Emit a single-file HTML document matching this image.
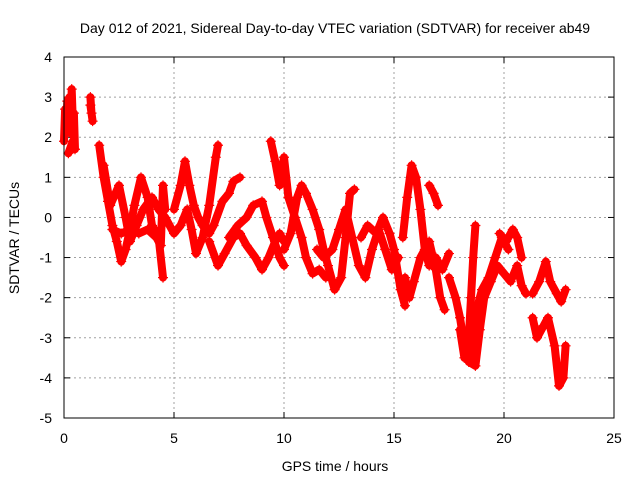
<!DOCTYPE html>
<html><head><meta charset="utf-8">
<style>
html,body{margin:0;padding:0;background:#fff;}
svg text{font-family:"Liberation Sans",sans-serif;font-size:14px;fill:#000;}
</style></head>
<body>
<svg id="chart" width="640" height="480" xmlns="http://www.w3.org/2000/svg">
<text x="335" y="33" text-anchor="middle">Day 012 of 2021, Sidereal Day-to-day VTEC variation (SDTVAR) for receiver ab49</text>
<text x="335" y="471" text-anchor="middle">GPS time / hours</text>
<text transform="translate(19,238) rotate(-90)" text-anchor="middle">SDTVAR / TECUs</text>
<g id="grid"></g>
<g id="ticks"></g>
<g id="series"></g>
<rect x="64" y="57" width="550" height="361" fill="none" stroke="#000" stroke-width="1"/>
</svg>
<script>
const xTicks=[0,5,10,15,20,25];
const yTicks=[4,3,2,1,0,-1,-2,-3,-4,-5];
const track1=[[0,1.9],[0.05,2.7],[0.1,2.2],[0.15,2.9],[0.25,3.0],[0.3,2.1],[0.35,3.2],[0.4,2.4],[0.45,2.6],[0.5,1.7],[0.4,1.9],[0.2,1.6]];
const track2=[[1.2,3.0],[1.25,2.6],[1.3,2.4],[1.2,2.8]];
const track3=[[1.6,1.8],[1.8,1.0],[2.0,0.4],[2.2,-0.2],[2.4,-0.6],[2.6,-1.1],[2.8,-0.8],[3.0,-0.3],[3.2,0.3],[3.5,1.0],[3.8,0.5],[4.0,-0.2],[4.3,-0.5],[4.5,-1.5]];
const track4=[[1.8,1.3],[2.1,0.3],[2.5,0.8],[2.8,0.0],[3.0,-0.6],[3.3,-0.2],[3.6,0.2],[4.0,0.5],[4.3,0.2],[4.6,0.0],[5.0,-0.4],[5.3,-0.2],[5.6,0.2],[5.8,-0.3],[6.0,-0.9],[6.3,-0.5],[6.6,0.3],[6.9,1.5],[7.0,1.8]];
const track5=[[2.2,-0.3],[2.6,-0.4],[3.0,-0.3],[3.4,-0.4],[3.8,-0.3],[4.2,-0.5],[4.4,-0.7],[4.5,0.8],[4.6,0.2]];
const track6=[[5.0,0.2],[5.3,0.8],[5.5,1.4],[5.7,0.8],[5.9,0.3],[6.1,0.0],[6.3,-0.2],[6.6,-0.4],[6.8,-0.2],[7.2,0.4],[7.5,0.6],[7.7,0.9],[8.0,1.0]];
const track7=[[6.6,-0.6],[7.0,-1.2],[7.3,-0.9],[7.7,-0.5],[8.0,-0.4],[8.3,-0.7],[8.7,-1.0],[9.0,-1.3],[9.3,-1.0],[9.6,-0.6],[9.8,-0.4],[10.0,-0.6]];
const track8=[[7.5,-0.5],[7.9,-0.2],[8.3,0.0],[8.6,0.3],[9.0,0.4],[9.2,0.0],[9.5,-0.5],[9.8,-1.0],[10.0,-1.2]];
const track9=[[9.4,1.9],[9.6,1.4],[9.8,0.8],[10.0,1.5],[10.2,0.5],[10.5,0.0],[10.8,-0.5],[11.0,-1.0],[11.3,-1.4],[11.6,-1.3],[11.9,-1.5]];
const track10=[[10.0,-0.8],[10.3,-0.4],[10.6,0.5],[10.8,0.8],[11.0,0.6],[11.3,0.2],[11.6,-0.3],[11.8,-0.8],[12.0,-1.2],[12.3,-1.8],[12.6,-1.5],[12.8,-0.5],[13.0,0.6],[13.2,0.7]];
const track11=[[11.5,-0.8],[11.8,-1.0],[12.2,-0.8],[12.5,-0.3],[12.8,0.2],[13.1,-0.5],[13.4,-1.2],[13.7,-1.5],[14.0,-0.8],[14.3,-0.3],[14.6,-0.8],[14.9,-1.3],[15.2,-1.0]];
const track12=[[13.5,-0.5],[13.8,-0.2],[14.2,-0.4],[14.5,0.0],[14.8,-0.4],[15.0,-0.8],[15.3,-1.8],[15.5,-2.2]];
const track13=[[15.4,-0.5],[15.6,0.5],[15.8,1.3],[16.0,1.0],[16.2,0.2],[16.4,-0.8],[16.6,-1.2],[16.9,-1.0],[17.2,-1.3],[17.5,-0.9]];
const track14=[[15.5,-1.5],[15.7,-2.0],[15.9,-1.6],[16.2,-1.0],[16.6,-0.6],[16.9,-1.3],[17.1,-2.0],[17.3,-2.3]];
const track15=[[16.6,0.8],[16.8,0.6],[17.0,0.3]];
const track16=[[17.5,-1.5],[17.8,-2.0],[18.0,-2.5],[18.2,-3.2],[18.4,-3.6],[18.6,-3.0],[18.8,-2.2],[19.0,-1.8],[19.3,-1.5],[19.6,-1.0],[19.9,-0.5],[20.2,-0.8]];
const track17=[[18.0,-2.8],[18.2,-3.5],[18.4,-3.0],[18.5,-2.0],[18.6,-1.0],[18.7,-0.2]];
const track18=[[18.4,-3.6],[18.7,-3.7],[18.9,-2.8],[19.1,-2.0],[19.4,-1.6],[19.7,-1.2],[20.0,-1.4],[20.3,-1.6],[20.6,-1.2],[20.8,-1.7],[21.0,-1.9]];
const track19=[[19.8,-0.4],[20.1,-0.6],[20.4,-0.3],[20.6,-0.5],[20.8,-1.0]];
const track20=[[21.3,-1.9],[21.6,-1.6],[21.9,-1.1],[22.1,-1.6],[22.4,-1.9],[22.6,-2.1],[22.8,-1.8]];
const track21=[[21.3,-2.5],[21.5,-3.0],[21.8,-2.7],[22.0,-2.5],[22.3,-3.2],[22.5,-4.2],[22.7,-4.0],[22.8,-3.2]];
const tracks=[track1,track2,track3,track4,track5,track6,track7,track8,track9,track10,track11,track12,track13,track14,track15,track16,track17,track18,track19,track20,track21];

const NS="http://www.w3.org/2000/svg";
const X0=64,X1=614,Y0=418,Y1=57;
function xs(v){return X0+(v-0)/(25-0)*(X1-X0);}
function ys(v){return Y0-(v+5)/(4+5)*(Y0-Y1);}
const grid=document.getElementById('grid'),ticks=document.getElementById('ticks'),series=document.getElementById('series');
function mk(tag,attrs,parent){const e=document.createElementNS(NS,tag);for(const k in attrs)e.setAttribute(k,attrs[k]);parent.appendChild(e);return e;}
xTicks.forEach(v=>{
  const x=xs(v);
  if(v>0&&v<25){const g=mk('line',{x1:x,x2:x,y1:Y1,y2:Y0,stroke:'#a0a0a0','stroke-dasharray':'2,3'},grid);
  
  }
  mk('line',{x1:x,x2:x,y1:Y0,y2:Y0-6,stroke:'#000'},grid);
  mk('line',{x1:x,x2:x,y1:Y1,y2:Y1+6,stroke:'#000'},grid);
  const t=mk('text',{x:x,y:443,'text-anchor':'middle'},ticks);t.textContent=v;
  
  
});
yTicks.forEach(v=>{
  const y=ys(v);
  if(v>-5&&v<4){const g=mk('line',{x1:X0,x2:X1,y1:y,y2:y,stroke:'#a0a0a0','stroke-dasharray':'2,3'},grid);
  
  }
  mk('line',{x1:X0,x2:X0+6,y1:y,y2:y,stroke:'#000'},grid);
  mk('line',{x1:X1,x2:X1-6,y1:y,y2:y,stroke:'#000'},grid);
  const t=mk('text',{x:52,y:y+5,'text-anchor':'end'},ticks);t.textContent=v;
  
  
});
tracks.forEach((tr,i)=>{
  const pts=tr.map(p=>xs(p[0])+','+ys(p[1])).join(' ');
  const pl=mk('polyline',{points:pts,fill:'none',stroke:'#ff0000','stroke-width':8,'stroke-linejoin':'round','stroke-linecap':'round'},series);
  
  
  tr.forEach(p=>{
    const x=xs(p[0]),y=ys(p[1]);
    const m=mk('path',{d:`M${x-5},${y}H${x+5}M${x},${y-5}V${y+5}`,stroke:'#ff0000','stroke-width':1.2},series);
    
    
  });
});
</script>
</body></html>
